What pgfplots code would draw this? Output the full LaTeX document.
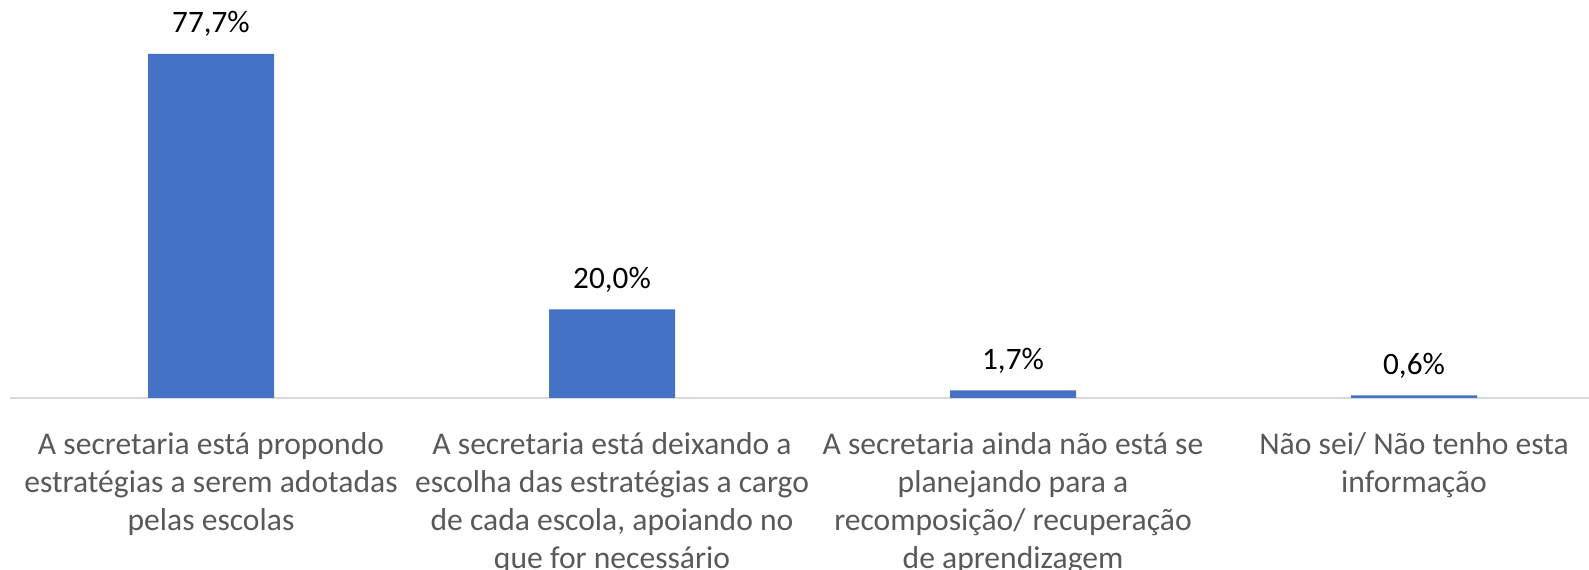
\documentclass[border=0pt]{standalone}
\usepackage{fontspec}
\setmainfont{Carlito}
\usepackage{pgfplots}
\pgfplotsset{compat=1.18}
\definecolor{barblue}{HTML}{4472C4}
\definecolor{axisgray}{HTML}{D9D9D9}
\definecolor{tickgray}{HTML}{595959}
\definecolor{labelblack}{HTML}{000000}
\begin{document}
\begin{tikzpicture}
\begin{axis}[
  name=ax,
  scale only axis,
  width=789.25pt, height=199pt,
  xmin=-0.5, xmax=3.4364,
  ymin=0, ymax=89.84,
  axis x line*=bottom,
  axis y line=none,
  x axis line style={draw=axisgray, line width=0.75pt, -},
  xtick={0,1,2,3},
  major tick length=0pt,
  xticklabels={
    {A secretaria está propondo\\estratégias a serem adotadas\\pelas escolas},
    {A secretaria está deixando a\\escolha das estratégias a cargo\\de cada escola, apoiando no\\que for necessário},
    {A secretaria ainda não está se\\planejando para a\\recomposição/ recuperação\\de aprendizagem},
    {Não sei/ Não tenho esta\\informação}},
  xticklabel style={align=center, font=\fontsize{15.8pt}{19pt}\selectfont, text=tickgray, anchor=north, inner sep=0pt, yshift=-17pt},
  clip=false,
  ybar,
  bar width=63pt,
  nodes near coords={\pgfmathprintnumber[fixed, fixed zerofill, precision=1, use comma, assume math mode=true]{\pgfplotspointmeta}\%},
  nodes near coords style={font=\fontsize{15.6pt}{18pt}\selectfont, text=labelblack, inner sep=0pt, anchor=base, yshift=10.5pt},
]
\addplot[fill=barblue, draw=none] coordinates {(0,77.7) (1,20.0) (2,1.7) (3,0.6)};
\end{axis}
\pgfresetboundingbox
\path[use as bounding box] ([xshift=-5.25pt,yshift=-86pt]ax.south west) rectangle (ax.north east);
\end{tikzpicture}
\end{document}
